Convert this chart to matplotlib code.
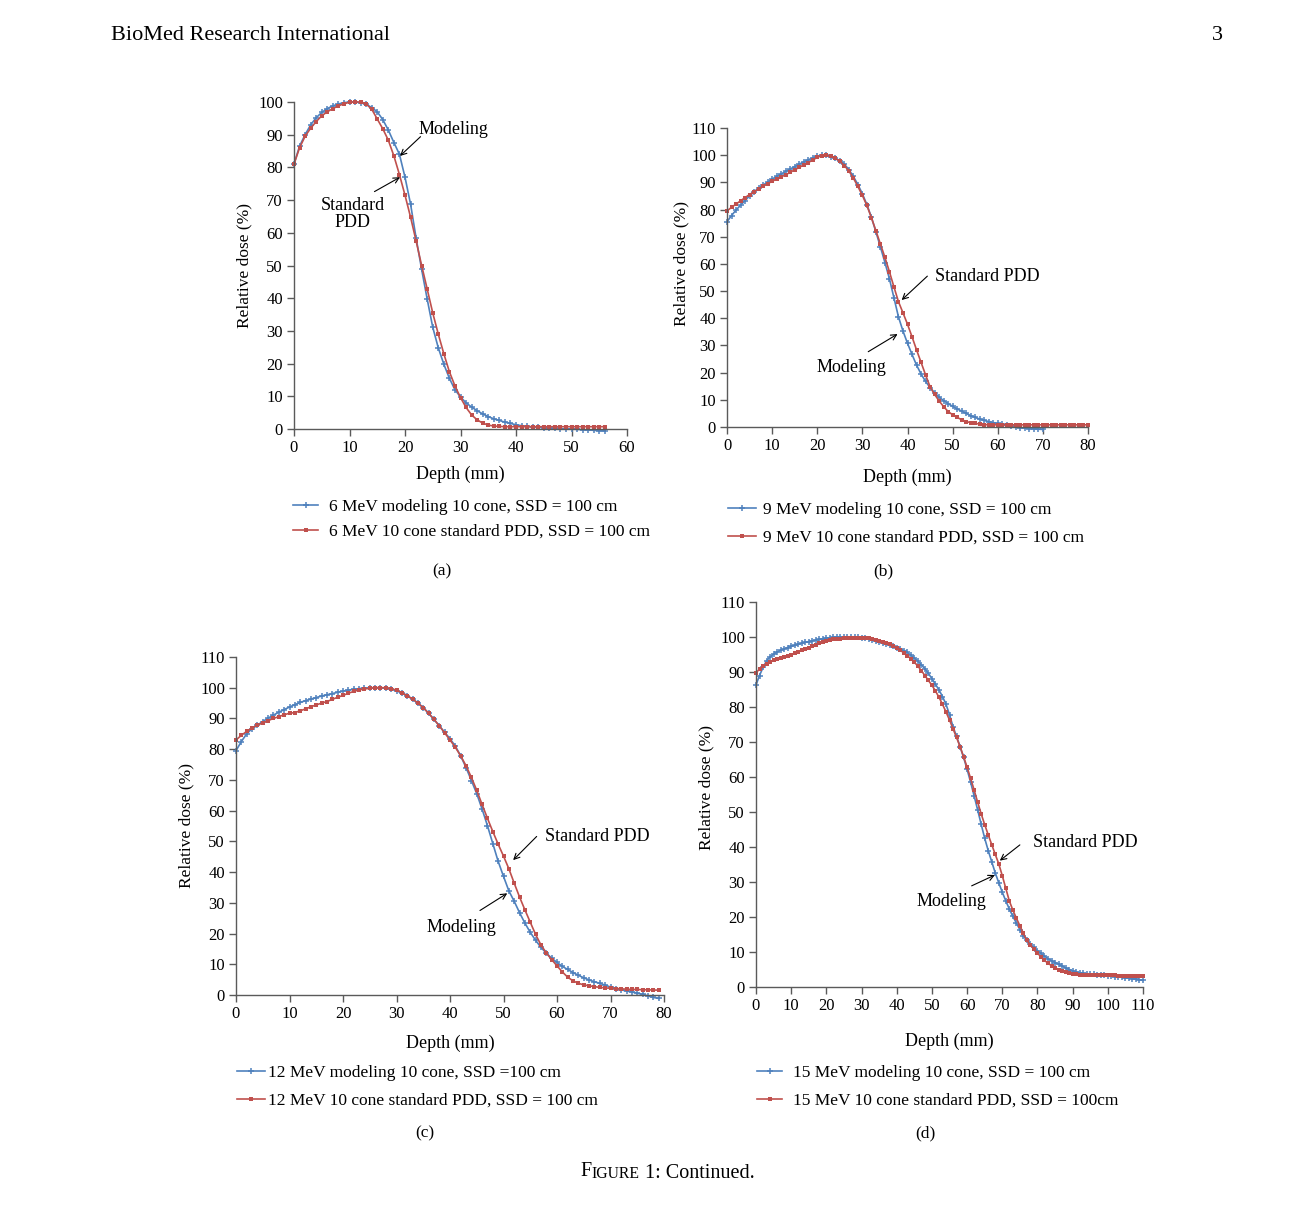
import numpy as np
import matplotlib
matplotlib.use('Agg')
import matplotlib.pyplot as plt

plt.rcParams['font.family'] = ['Liberation Serif', 'DejaVu Serif']

# Panel (a): 6 MeV, depth in mm, relative dose in %
depth_a = list(range(0, 57))
model_a = [81, 86.5, 90, 93, 95.2, 96.8, 98, 98.8, 99.4, 99.8,
           100, 100, 99.8, 99.3, 98.3, 97, 94.6, 91.4, 87.6, 84,
           77, 68.8, 58.4, 48.8, 39.7, 31.1, 24.8, 19.8, 15.5, 12,
           9.8, 8, 6.7, 5.6, 4.6, 3.8, 3.1, 2.6, 2.1, 1.7,
           1.3, 1.0, 0.8, 0.6, 0.5, 0.4, 0.3, 0.2, 0.1, 0,
           0, -0.1, -0.2, -0.3, -0.4, -0.5, -0.6]
std_a = [81, 86, 89.5, 92, 94, 95.8, 97, 98, 98.8, 99.5,
         99.9, 100, 100, 99.4, 97.8, 94.8, 91.8, 88.3, 83.5, 77.8,
         71.5, 64.8, 57.5, 50, 42.8, 35.5, 29, 23, 17.5, 13.2,
         9.6, 6.6, 4.3, 2.8, 1.8, 1.2, 0.9, 0.8, 0.7, 0.7,
         0.7, 0.7, 0.7, 0.7, 0.7, 0.7, 0.7, 0.7, 0.7, 0.7,
         0.7, 0.7, 0.7, 0.7, 0.7, 0.7, 0.7]

# Panel (b): 9 MeV
depth_b_model = list(range(0, 71))
model_b = [75.5, 77.8, 79.8, 81.6, 83.3, 85, 86.5, 87.8, 89, 90.1,
           91.2, 92.2, 93.1, 94, 94.9, 95.8, 96.7, 97.5, 98.3, 99,
           99.6, 100, 99.9, 99.4, 98.8, 98, 96.7, 94.7, 92.2, 89.2,
           85.8, 81.8, 77.2, 71.8, 66.2, 60.5, 54.5, 47.5, 40.5, 35.3,
           30.8, 26.7, 22.8, 19.5, 16.8, 14.5, 12.6, 11, 9.7, 8.6,
           7.6, 6.7, 5.8, 5, 4.2, 3.5, 2.9, 2.4, 2, 1.6,
           1.3, 1, 0.7, 0.4, 0.1, -0.2, -0.4, -0.6, -0.7, -0.8, -0.9]
depth_b_std = list(range(0, 81))
std_b = [79.5, 80.8, 82, 83.2, 84.4, 85.5, 86.6, 87.6, 88.6, 89.5,
         90.4, 91.2, 92, 92.8, 93.7, 94.6, 95.5, 96.4, 97.3, 98.2,
         99.2, 99.8, 100, 99.6, 98.8, 97.8, 96.2, 94.2, 91.6, 88.5,
         85.2, 81.5, 77, 72.2, 67.3, 62.4, 57.1, 51.5, 46.1, 42,
         37.8, 33.2, 28.4, 23.8, 19.2, 14.8, 12, 9.6, 7.5, 5.7,
         4.5, 3.5, 2.7, 2, 1.6, 1.3, 1.1, 0.9, 0.8, 0.8,
         0.8, 0.8, 0.8, 0.8, 0.8, 0.8, 0.8, 0.8, 0.8, 0.8,
         0.8, 0.8, 0.8, 0.8, 0.8, 0.8, 0.8, 0.8, 0.8, 0.8, 0.8]

# Panel (c): 12 MeV
depth_c = list(range(0, 80))
model_c = [79.5, 82.5, 85, 86.7, 87.8, 89, 90.1, 91.1, 92, 92.9,
           93.7, 94.5, 95.2, 95.8, 96.3, 96.8, 97.3, 97.7, 98.1, 98.5,
           98.9, 99.2, 99.5, 99.7, 99.9, 100, 100, 100, 99.8, 99.5,
           99, 98.3, 97.4, 96.3, 95, 93.5, 91.7, 89.7, 87.6, 85.5,
           83.4, 81, 77.8, 74, 69.8, 65.5, 60.5, 55.1, 49.3, 43.5,
           38.6, 33.9, 30.5, 26.8, 23.4, 20.4, 17.8, 15.5, 13.6, 12,
           10.6, 9.3, 8.3, 7.3, 6.4, 5.6, 4.9, 4.3, 3.8, 3.2,
           2.6, 2.1, 1.7, 1.3, 1, 0.6, 0.2, -0.3, -0.8, -1.1]
std_c = [83, 84.5, 85.8, 86.9, 87.8, 88.6, 89.3, 90, 90.6, 91.2,
         91.7, 91.9, 92.5, 93.1, 93.8, 94.4, 95, 95.5, 96.2, 96.9,
         97.5, 98.2, 98.8, 99.3, 99.6, 99.8, 100, 100, 100, 99.7,
         99.2, 98.4, 97.4, 96.3, 95, 93.5, 91.7, 89.7, 87.6, 85.3,
         83, 80.6, 77.8, 74.6, 70.8, 66.6, 62, 57.5, 53.2, 49.1,
         45.2, 41.1, 36.4, 31.9, 27.7, 23.7, 19.7, 16.3, 13.7, 11.5,
         9.5, 7.5, 5.8, 4.6, 3.8, 3.3, 3, 2.7, 2.5, 2.3,
         2.2, 2.1, 2, 1.9, 1.8, 1.8, 1.7, 1.7, 1.6, 1.6]

# Panel (d): 15 MeV
depth_d = list(range(0, 111))
model_d = [86.3, 89, 91.3, 93.2, 94.3, 95.1, 95.7, 96.2, 96.6, 97,
           97.3, 97.6, 97.9, 98.2, 98.5, 98.7, 98.9, 99.1, 99.3, 99.5,
           99.7, 99.8, 99.9, 100, 100, 100, 100, 100, 100, 99.9,
           99.8, 99.6, 99.4, 99.1, 98.9, 98.6, 98.3, 98, 97.6, 97.3,
           97, 96.6, 96.1, 95.6, 94.8, 94, 93.1, 92.1, 90.9, 89.6,
           88.1, 86.5, 84.9, 83, 80.8, 77.8, 74.4, 71.6, 68.7, 65.6,
           62.2, 58.5, 54.6, 50.6, 46.5, 42.5, 39, 35.8, 32.6, 29.8,
           27.1, 24.6, 22.3, 20.2, 18.3, 16.4, 14.6, 13.3, 12.2, 11.3,
           10.4, 9.6, 8.8, 8.1, 7.5, 7, 6.5, 6, 5.5, 5,
           4.6, 4.3, 4.1, 3.9, 3.8, 3.7, 3.6, 3.5, 3.4, 3.3,
           3.2, 3.1, 3, 2.9, 2.8, 2.6, 2.5, 2.4, 2.2, 2.1, 1.9]
std_d = [89.8, 90.8, 91.7, 92.4, 92.9, 93.3, 93.7, 94, 94.3, 94.7,
         95, 95.4, 95.8, 96.2, 96.6, 97, 97.4, 97.8, 98.2, 98.6,
         98.9, 99.1, 99.3, 99.4, 99.5, 99.6, 99.7, 99.8, 99.8, 99.8,
         99.8, 99.8, 99.6, 99.4, 99.2, 99, 98.7, 98.3, 97.9, 97.4,
         96.8, 96.2, 95.5, 94.7, 93.8, 92.8, 91.7, 90.4, 89, 87.6,
         86.2, 84.6, 82.8, 80.8, 78.6, 76.3, 73.8, 71.3, 68.7, 65.8,
         62.8, 59.6, 56.3, 52.8, 49.5, 46.4, 43.5, 40.7, 37.9, 35.2,
         31.8, 28.2, 24.6, 22, 19.7, 17.5, 15.3, 13.3, 12, 10.8,
         9.7, 8.6, 7.6, 6.8, 6.1, 5.5, 5, 4.6, 4.2, 3.9,
         3.7, 3.6, 3.5, 3.5, 3.5, 3.4, 3.4, 3.4, 3.4, 3.3,
         3.3, 3.3, 3.3, 3.2, 3.2, 3.2, 3.2, 3.1, 3.1, 3.1, 3.1]

labels_a = ['6 MeV modeling 10 cone, SSD = 100 cm', '6 MeV 10 cone standard PDD, SSD = 100 cm']
labels_b = ['9 MeV modeling 10 cone, SSD = 100 cm', '9 MeV 10 cone standard PDD, SSD = 100 cm']
labels_c = ['12 MeV modeling 10 cone, SSD =100 cm', '12 MeV 10 cone standard PDD, SSD = 100 cm']
labels_d = ['15 MeV modeling 10 cone, SSD = 100 cm', '15 MeV 10 cone standard PDD, SSD = 100cm']

BLUE = '#4F81BD'
RED = '#C0504D'
AXC = '#5a5a5a'

W, H = 1291, 1205
fig = plt.figure(figsize=(W / 100, H / 100), dpi=100)


def fxy(px, py):
    # page pixel (from top-left) -> figure fraction
    return px / W, 1 - py / H


def add_panel(x0, x1, ybot, ytop):
    return fig.add_axes([x0 / W, 1 - ybot / H, (x1 - x0) / W, (ybot - ytop) / H])


def draw_panel(ax, dm, vm, ds, vs, xmax, ymax, labels, leg_xy, leg_space, hlen, hpad):
    ax.plot(dm, vm, color=BLUE, lw=1.2, marker='+', ms=4.0, mew=1.1,
            clip_on=False, label=labels[0])
    ax.plot(ds, vs, color=RED, lw=1.2, marker='s', ms=3.4, mew=0,
            clip_on=False, label=labels[1])
    ax.set_xlim(0, xmax)
    ax.set_ylim(0, ymax)
    ax.set_xticks(range(0, xmax + 1, 10))
    ax.set_yticks(range(0, ymax + 1, 10))
    for s in ['top', 'right']:
        ax.spines[s].set_visible(False)
    for s in ['left', 'bottom']:
        ax.spines[s].set_color(AXC)
        ax.spines[s].set_linewidth(1.0)
    ax.tick_params(direction='out', length=5, width=1, color=AXC,
                   labelsize=12, pad=3)
    ax.legend(loc='upper left', bbox_to_anchor=fxy(*leg_xy),
              bbox_transform=fig.transFigure, frameon=False, fontsize=12.5,
              borderpad=0, borderaxespad=0, labelspacing=leg_space,
              handlelength=hlen, handletextpad=hpad)


def arrow(ax, tail, tip):
    ax.annotate('', xy=tip, xytext=tail,
                arrowprops=dict(arrowstyle='->', color='black', lw=0.8,
                                shrinkA=0, shrinkB=0))


# (a)
ax_a = add_panel(294, 627, 429, 102)
draw_panel(ax_a, depth_a, model_a, depth_a, std_a, 60, 100, labels_a,
           (293, 499), 0.5, 1.45, 0.6)
ax_a.text(28.7, 91.7, 'Modeling', fontsize=13, ha='center', va='center')
arrow(ax_a, (22.8, 89.4), (19.1, 83.5))
ax_a.text(10.6, 65.7, 'Standard\nPDD', fontsize=13, ha='center', va='center',
          linespacing=1.05)
arrow(ax_a, (14.5, 72.6), (19.1, 77.0))

# (b)
ax_b = add_panel(727, 1088, 427, 128)
draw_panel(ax_b, depth_b_model, model_b, depth_b_std, std_b, 80, 110, labels_b,
           (728, 502), 0.68, 1.6, 0.4)
ax_b.text(46.0, 55.3, 'Standard PDD', fontsize=13, ha='left', va='center')
arrow(ax_b, (44.4, 55.5), (38.7, 46.7))
ax_b.text(27.5, 22.0, 'Modeling', fontsize=13, ha='center', va='center')
arrow(ax_b, (31.3, 27.7), (37.8, 34.2))

# (c)
ax_c = add_panel(236, 664, 995, 657)
draw_panel(ax_c, depth_c, model_c, depth_c, std_c, 80, 110, labels_c,
           (237, 1065), 0.68, 1.6, 0.2)
ax_c.text(57.8, 51.6, 'Standard PDD', fontsize=13, ha='left', va='center')
arrow(ax_c, (56.2, 51.6), (51.8, 43.9))
ax_c.text(42.2, 21.9, 'Modeling', fontsize=13, ha='center', va='center')
arrow(ax_c, (45.6, 27.5), (50.7, 33.1))

# (d)
ax_d = add_panel(756, 1143, 987, 602)
draw_panel(ax_d, depth_d, model_d, depth_d, std_d, 110, 110, labels_d,
           (757, 1065), 0.68, 1.45, 0.6)
ax_d.text(78.6, 41.2, 'Standard PDD', fontsize=13, ha='left', va='center')
arrow(ax_d, (75.0, 40.6), (69.3, 36.1))
ax_d.text(55.6, 24.4, 'Modeling', fontsize=13, ha='center', va='center')
arrow(ax_d, (61.3, 28.9), (67.9, 32.0))

# axis titles placed at page positions
for (x, y) in [(244, 266), (681, 263), (186, 826), (706, 787)]:
    fig.text(*fxy(x, y), 'Relative dose (%)', rotation=90, fontsize=12.5,
             ha='center', va='center')
for (x, y) in [(460, 474), (907, 477), (450, 1043), (949, 1041)]:
    fig.text(*fxy(x, y), 'Depth (mm)', fontsize=13, ha='center', va='center')
for (x, y, s) in [(442, 571, '(a)'), (883, 571, '(b)'), (425, 1133, '(c)'), (925, 1133, '(d)')]:
    fig.text(*fxy(x, y), s, fontsize=12.5, ha='center', va='center')

# page header and caption
fig.text(*fxy(111, 36), 'BioMed Research International', fontsize=16,
         ha='left', va='center')
fig.text(*fxy(1217, 36), '3', fontsize=16, ha='center', va='center')
t1 = fig.text(*fxy(580, 1172), 'F', fontsize=14.5, ha='left', va='center')
t2 = fig.text(0, 0, 'IGURE', fontsize=11.3, ha='left', va='baseline')
t3 = fig.text(0, 0, ' 1: Continued.', fontsize=14.5, ha='left', va='baseline')
fig.canvas.draw()
r = fig.canvas.get_renderer()
bb1 = t1.get_window_extent(r)
# baseline of the big F sits a little above the bottom of its box
base_y = bb1.y0 + 3
t2.set_position(((bb1.x1 + 0.5) / W, base_y / H))
fig.canvas.draw()
bb2 = t2.get_window_extent(r)
t3.set_position((bb2.x1 / W, base_y / H))

fig.savefig('out.png', dpi=100)
